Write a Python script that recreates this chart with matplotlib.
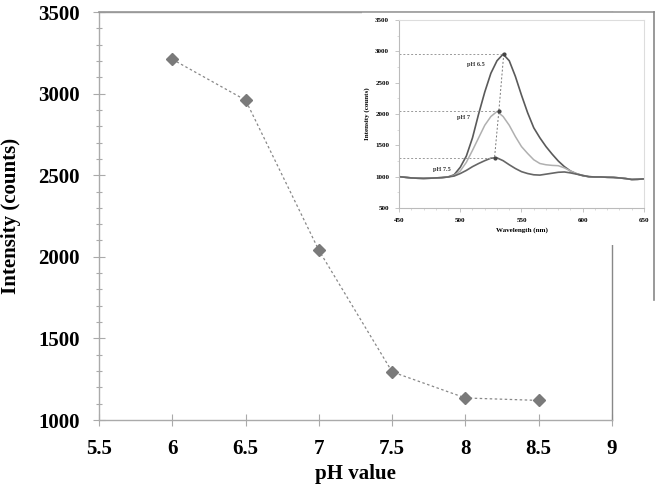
import matplotlib
matplotlib.use('Agg')
import matplotlib.pyplot as plt
import matplotlib.patches as mpatches
from matplotlib.lines import Line2D
from matplotlib.ticker import MultipleLocator

plt.rcParams['font.family'] = ['Liberation Serif', 'DejaVu Serif']
plt.rcParams['font.weight'] = 'bold'

# main chart: peak intensity vs pH
ph = [6, 6.5, 7, 7.5, 8, 8.5]
intensity = [3210, 2960, 2040, 1295, 1135, 1120]

# inset: emission spectra
wavelength = [450, 455, 460, 465, 470, 475, 480, 485, 490, 495, 500, 505, 510, 515, 520,
              525, 530, 535, 540, 545, 550, 555, 560, 565, 570, 575, 580, 585, 590, 595,
              600, 605, 610, 615, 620, 625, 630, 635, 640, 645, 650]
spec_ph65 = [1000, 990, 980, 975, 972, 975, 980, 985, 995, 1030, 1150, 1330, 1620, 2000, 2350,
             2650, 2850, 2955, 2850, 2600, 2300, 2020, 1780, 1620, 1480, 1360, 1250, 1160, 1090, 1045,
             1015, 1000, 995, 995, 990, 988, 980, 970, 955, 958, 965]
spec_ph7 = [1000, 990, 980, 975, 972, 975, 980, 985, 995, 1020, 1090, 1230, 1420, 1620, 1820,
            1960, 2040, 1960, 1820, 1640, 1480, 1370, 1270, 1210, 1190, 1180, 1175, 1140, 1090, 1050,
            1020, 1000, 995, 995, 990, 988, 980, 970, 955, 958, 965]
spec_ph75 = [1000, 990, 980, 975, 972, 975, 980, 985, 995, 1010, 1050, 1100, 1160, 1210, 1255,
             1295, 1300, 1255, 1190, 1130, 1080, 1050, 1030, 1025, 1040, 1055, 1070, 1075, 1060, 1040,
             1020, 1000, 995, 995, 990, 988, 980, 970, 955, 958, 965]
peak_wl = [535.5, 531.5, 528]
peak_int = [2955, 2045, 1305]
spec_labels = ['pH 6.5', 'pH 7', 'pH 7.5']
label_pos = [(513, 2790), (503, 1940), (485, 1110)]

W, H = 665, 484
fig = plt.figure(figsize=(6.65, 4.84), dpi=100)
ax = fig.add_axes([99 / W, 1 - 420 / H, (612 - 99) / W, (420 - 12) / H])

ax.plot(ph, intensity, linestyle=(0, (2, 2)), color='#888888', linewidth=0.9,
        marker='D', markersize=6, markerfacecolor='#7a7a7a', markeredgecolor='#7a7a7a')
ax.set_xlim(5.5, 9)
ax.set_ylim(1000, 3500)
ax.yaxis.set_major_locator(MultipleLocator(500))
ax.yaxis.set_minor_locator(MultipleLocator(100))
ax.set_xticks([5.5, 6, 6.5, 7, 7.5, 8, 8.5, 9])
ax.set_xticklabels(['5.5', '6', '6.5', '7', '7.5', '8', '8.5', '9'])
ax.tick_params(axis='both', which='major', direction='inout', length=8, width=0.8,
               color='#aaaaaa', labelsize=15, pad=10)
ax.tick_params(axis='y', which='minor', direction='inout', length=4, width=0.8, color='#aaaaaa')
for s in ax.spines.values():
    s.set_color('#aaaaaa')
    s.set_linewidth(1.0)
ax.spines['top'].set_color('#999999')
ax.spines['right'].set_color('#888888')
ax.set_ylabel('Intensity (counts)', fontsize=15, fontweight='bold', labelpad=12)
ax.set_xlabel('pH value', fontsize=15, fontweight='bold', labelpad=3)

# inset picture frame (white panel with top/right border)
panel = mpatches.Rectangle((362 / W, 1 - 245 / H), (654 - 362) / W, (245 - 12) / H,
                           transform=fig.transFigure, facecolor='white', edgecolor='none', zorder=5)
fig.add_artist(panel)
fig.add_artist(Line2D([99 / W, 654 / W], [1 - 12 / H, 1 - 12 / H], transform=fig.transFigure,
                      color='#999999', linewidth=1.2, zorder=6))
fig.add_artist(Line2D([654 / W, 654 / W], [1 - 12 / H, 1 - 300 / H], transform=fig.transFigure,
                      color='#888888', linewidth=1.2, zorder=6))

ins = fig.add_axes([399 / W, 1 - 208 / H, (644 - 399) / W, (208 - 20) / H], zorder=7)
ins.plot(wavelength, spec_ph65, color='#5a5a5a', linewidth=1.2)
ins.plot(wavelength, spec_ph7, color='#b0b0b0', linewidth=1.1)
ins.plot(wavelength, spec_ph75, color='#666666', linewidth=1.2)
for w, p in zip(peak_wl, peak_int):
    ins.plot([450, w], [p, p], linestyle=(0, (2, 2)), color='#999999', linewidth=0.7)
ins.plot(peak_wl, peak_int, linestyle=(0, (2, 2)), color='#777777', linewidth=0.7,
         marker='o', markersize=2, markerfacecolor='#444444', markeredgecolor='#444444')
for t, (x, y) in zip(spec_labels, label_pos):
    ins.text(x, y, t, fontsize=4.5, fontweight='bold', ha='center', va='center', color='#333333')
ins.set_xlim(450, 650)
ins.set_ylim(500, 3500)
ins.xaxis.set_major_locator(MultipleLocator(50))
ins.xaxis.set_minor_locator(MultipleLocator(10))
ins.yaxis.set_major_locator(MultipleLocator(500))
ins.yaxis.set_minor_locator(MultipleLocator(250))
ins.tick_params(which='major', direction='out', length=3, width=0.6, color='#bbbbbb',
                labelsize=5, pad=4)
ins.tick_params(which='minor', direction='out', length=1.5, width=0.5, color='#cccccc')
for s in ins.spines.values():
    s.set_color('#dddddd')
    s.set_linewidth(0.8)
ins.spines['left'].set_color('#bbbbbb')
ins.spines['bottom'].set_color('#bbbbbb')
ins.set_ylabel('Intensity (counts)', fontsize=5, fontweight='bold', labelpad=4)
ins.set_xlabel('Wavelength (nm)', fontsize=5, fontweight='bold', labelpad=3)

fig.savefig('out.png', dpi=100)
